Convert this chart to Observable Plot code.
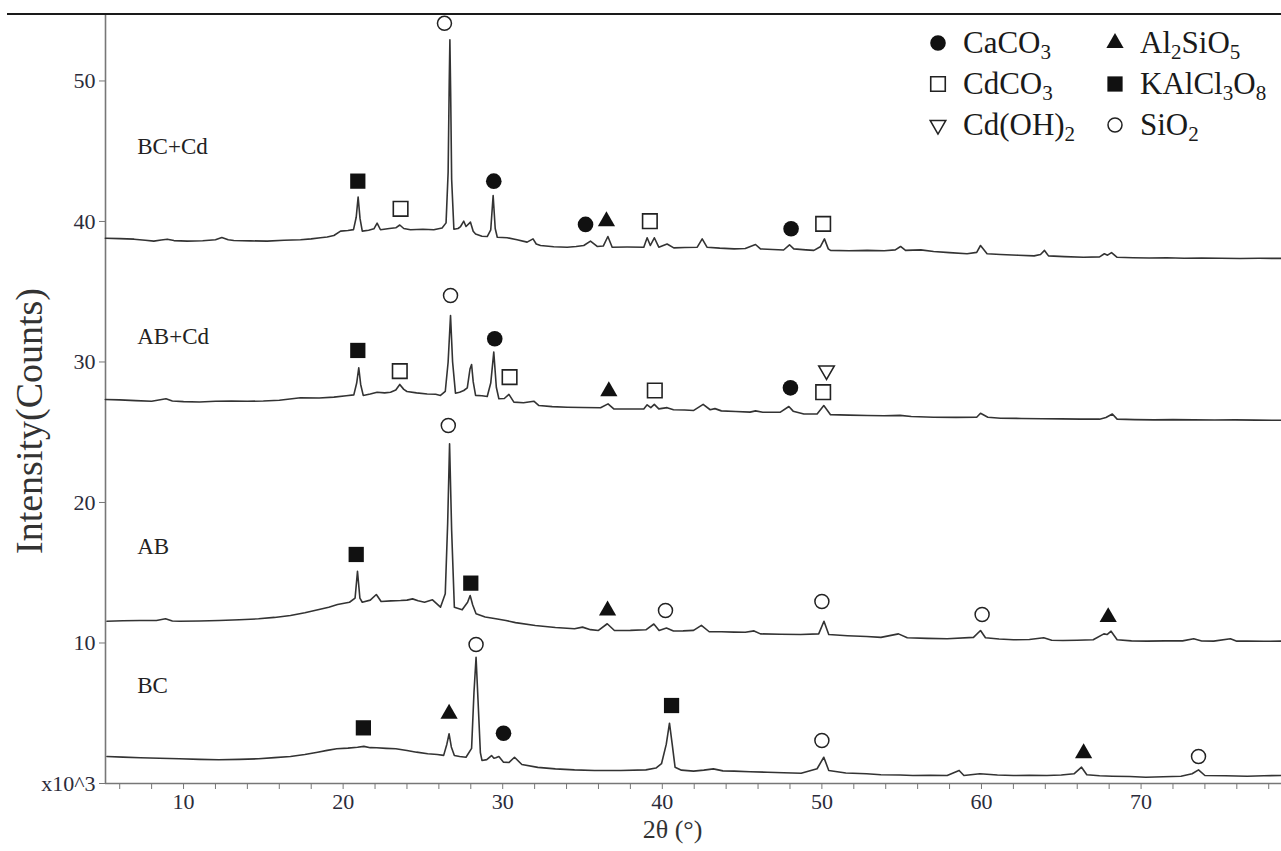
<!DOCTYPE html>
<html>
<head>
<meta charset="utf-8">
<script src="https://cdn.jsdelivr.net/npm/d3@7"></script>
<script src="https://cdn.jsdelivr.net/npm/@observablehq/plot@0.6"></script>
<style>
  html, body { margin: 0; padding: 0; background: #fff; }
  #wrap { position: relative; width: 1281px; height: 851px; overflow: hidden; font-family: "Liberation Serif", "Times New Roman", serif; }
  #topline { position: absolute; left: 7px; right: 0; top: 13px; height: 2px; background: #1a1a1a; }
  #legend { position: absolute; left: 925px; top: 22px; display: grid; grid-template-columns: 177px 150px; row-gap: 0px; font-size: 31px; color: #1a1a1a; }
  #legend .item { display: flex; align-items: center; height: 41px; white-space: nowrap; }
  #legend svg { width: 26px; height: 26px; margin-right: 12px; flex: none; }
  #legend sub { font-size: 0.68em; vertical-align: -0.28em; line-height: 0; }
</style>
</head>
<body>
<div id="wrap"><div id="topline"></div><div id="legend"></div></div>
<script>
// ---- Data: 2θ (°) vs intensity (counts, x10^3) ----
const BC = [[5.2,1.92],[6.2,1.88],[7.3,1.83],[8.5,1.8],[9.75,1.76],[11.0,1.72],[12.2,1.69],[13.5,1.72],[14.7,1.76],[15.7,1.84],[16.7,1.92],[17.6,2.06],[18.4,2.23],[19.0,2.36],[19.6,2.47],[20.3,2.52],[20.9,2.58],[21.3,2.64],[21.7,2.55],[22.1,2.54],[22.7,2.5],[23.3,2.47],[24.0,2.35],[24.6,2.23],[25.3,2.12],[25.9,2.06],[26.3,2.0],[26.5,2.8],[26.64,3.54],[26.78,2.6],[26.97,1.99],[27.3,1.92],[27.7,1.87],[28.05,2.5],[28.2,6.5],[28.33,8.99],[28.45,6.0],[28.6,2.2],[28.7,1.64],[29.0,1.7],[29.3,1.99],[29.45,1.8],[29.57,1.83],[29.76,1.92],[30.05,1.52],[30.4,1.5],[30.74,1.87],[31.2,1.35],[32.2,1.15],[33.3,1.04],[34.5,0.97],[35.75,0.93],[37.4,0.93],[38.97,0.97],[39.6,1.1],[39.95,1.41],[40.25,2.8],[40.45,4.29],[40.62,2.8],[40.8,1.16],[41.2,0.95],[41.96,0.88],[42.6,0.95],[43.2,1.04],[43.8,0.9],[44.5,0.88],[45.5,0.84],[46.6,0.8],[47.6,0.76],[48.7,0.73],[49.7,1.05],[50.12,1.87],[50.43,0.93],[51.5,0.75],[52.8,0.69],[53.7,0.62],[54.9,0.6],[55.7,0.57],[56.8,0.58],[57.85,0.57],[58.6,0.93],[58.9,0.57],[59.9,0.69],[61.0,0.6],[62.0,0.57],[63.0,0.58],[64.1,0.57],[65.0,0.6],[65.8,0.69],[66.27,1.16],[66.6,0.62],[67.4,0.55],[68.2,0.52],[69.3,0.5],[70.3,0.45],[71.4,0.48],[72.5,0.52],[73.2,0.69],[73.6,0.97],[74.0,0.57],[75.3,0.55],[76.65,0.52],[77.7,0.55],[78.8,0.57]];

const AB = [[5.2,11.55],[6.2,11.58],[7.27,11.6],[8.3,11.6],[8.87,11.72],[9.3,11.56],[9.75,11.55],[11.0,11.57],[12.23,11.6],[13.5,11.65],[14.7,11.72],[15.7,11.82],[16.7,11.96],[17.6,12.15],[18.42,12.36],[19.1,12.55],[19.65,12.74],[20.4,12.9],[20.75,13.2],[20.9,15.1],[21.05,13.2],[21.2,12.9],[21.7,13.05],[22.08,13.45],[22.38,12.95],[23.0,13.0],[23.6,13.02],[24.0,13.05],[24.35,13.14],[24.7,13.0],[25.1,12.9],[25.6,13.07],[26.1,12.55],[26.4,13.5],[26.55,18.5],[26.67,24.18],[26.8,18.0],[26.97,12.55],[27.46,12.36],[27.8,12.9],[27.96,13.38],[28.12,12.7],[28.33,12.08],[28.9,11.85],[29.57,11.72],[30.2,11.6],[30.8,11.45],[32.04,11.25],[33.3,11.1],[34.5,11.01],[35.0,11.13],[35.5,10.95],[36.0,10.89],[36.55,11.37],[37.0,10.89],[38.0,10.9],[38.97,10.94],[39.47,11.35],[39.8,10.89],[40.26,11.06],[40.7,10.85],[41.3,10.86],[41.96,10.9],[42.45,11.25],[42.94,10.8],[43.7,10.8],[44.5,10.77],[45.2,10.76],[45.75,10.86],[46.15,10.65],[47.4,10.62],[48.66,10.6],[49.8,10.65],[50.13,11.55],[50.43,10.6],[51.6,10.52],[52.8,10.46],[53.7,10.4],[54.8,10.65],[55.35,10.37],[56.6,10.33],[57.85,10.3],[59.5,10.4],[59.94,10.89],[60.25,10.37],[61.1,10.28],[62.0,10.23],[63.0,10.25],[63.9,10.37],[64.4,10.2],[65.1,10.18],[66.0,10.2],[67.0,10.23],[67.67,10.65],[67.87,10.6],[68.12,10.84],[68.5,10.23],[69.4,10.15],[70.38,10.13],[71.5,10.15],[72.6,10.15],[73.3,10.3],[73.8,10.14],[74.55,10.13],[75.6,10.3],[76.0,10.13],[76.65,10.13],[77.7,10.12],[78.8,10.13]];

const AB_Cd = [[5.1,27.33],[6.0,27.3],[7.0,27.25],[8.0,27.2],[8.9,27.38],[9.3,27.22],[10.0,27.18],[11.0,27.15],[12.0,27.2],[13.0,27.22],[14.0,27.2],[15.0,27.22],[16.0,27.28],[17.33,27.45],[18.5,27.44],[19.42,27.5],[20.2,27.6],[20.67,27.66],[20.85,28.5],[20.98,29.59],[21.1,28.4],[21.26,27.62],[21.7,27.72],[22.13,27.85],[22.6,27.8],[22.97,27.85],[23.3,28.0],[23.55,28.4],[23.8,28.05],[24.0,27.9],[24.6,27.8],[25.27,27.72],[25.8,27.7],[26.1,27.62],[26.4,27.9],[26.58,30.0],[26.73,33.31],[26.86,30.0],[27.04,27.78],[27.3,27.85],[27.56,27.97],[27.78,28.16],[27.95,29.5],[28.05,29.82],[28.15,28.6],[28.3,27.62],[28.7,27.6],[29.03,27.54],[29.25,28.5],[29.44,30.7],[29.6,28.2],[29.76,27.38],[30.1,27.4],[30.39,27.69],[30.7,27.14],[31.3,27.1],[31.95,27.21],[32.27,26.9],[33.1,26.82],[34.04,26.78],[35.0,26.76],[36.13,26.74],[36.6,27.02],[36.96,26.66],[37.9,26.65],[38.84,26.66],[39.05,26.95],[39.28,26.75],[39.5,26.98],[39.78,26.66],[40.3,26.75],[40.7,26.6],[41.4,26.58],[41.97,26.55],[42.56,26.98],[43.0,26.6],[43.3,26.68],[43.7,26.52],[44.6,26.48],[45.5,26.43],[45.84,26.52],[46.3,26.42],[47.4,26.43],[47.93,26.83],[48.2,26.5],[48.87,26.3],[49.7,26.3],[50.12,26.9],[50.54,26.25],[51.7,26.22],[52.84,26.19],[53.9,26.17],[54.9,26.2],[55.6,26.12],[57.0,26.07],[58.4,26.06],[59.7,26.07],[59.94,26.35],[60.4,26.07],[61.2,26.0],[62.5,25.98],[63.8,25.96],[65.0,25.95],[66.2,25.93],[67.4,25.93],[67.8,26.05],[68.2,26.3],[68.5,25.93],[69.6,25.9],[70.8,25.88],[72.0,25.9],[73.3,25.88],[74.6,25.87],[75.9,25.88],[77.2,25.86],[78.8,25.85]];

const BC_Cd = [[5.1,38.81],[6.0,38.78],[6.9,38.74],[7.6,38.66],[8.14,38.6],[8.6,38.68],[8.98,38.74],[9.4,38.64],[10.23,38.6],[11.2,38.63],[12.0,38.7],[12.4,38.86],[12.8,38.7],[13.15,38.65],[14.2,38.62],[15.24,38.6],[16.3,38.66],[17.33,38.7],[18.0,38.76],[18.58,38.84],[19.0,38.9],[19.42,39.0],[19.84,39.31],[20.3,39.36],[20.65,39.42],[20.82,40.3],[20.94,41.73],[21.06,40.2],[21.2,39.31],[21.6,39.38],[21.93,39.48],[22.13,39.88],[22.34,39.41],[22.9,39.5],[23.3,39.55],[23.55,39.75],[23.8,39.5],[24.22,39.41],[25.0,39.45],[25.68,39.41],[26.2,39.54],[26.45,39.9],[26.58,43.5],[26.65,50.0],[26.69,52.93],[26.74,49.0],[26.8,43.0],[26.94,39.45],[27.2,39.5],[27.36,39.64],[27.56,40.02],[27.7,39.64],[27.98,39.95],[28.15,39.3],[28.3,39.11],[28.7,38.95],[29.03,38.93],[29.25,39.4],[29.4,41.85],[29.53,39.5],[29.66,38.88],[30.28,38.84],[30.9,38.7],[31.53,38.53],[31.9,38.76],[32.1,38.4],[32.37,38.29],[33.2,38.2],[34.04,38.17],[34.6,38.22],[35.08,38.29],[35.5,38.6],[35.92,38.22],[36.3,38.25],[36.59,38.93],[36.86,38.17],[37.8,38.18],[38.84,38.17],[39.05,38.84],[39.25,38.29],[39.5,38.84],[39.78,38.17],[40.3,38.4],[40.72,38.12],[41.4,38.15],[42.19,38.17],[42.5,38.76],[42.8,38.17],[43.6,38.1],[44.5,38.05],[45.2,38.08],[45.84,38.36],[46.15,38.05],[47.6,37.97],[47.97,38.34],[48.24,38.05],[49.0,37.98],[49.5,37.94],[49.9,38.2],[50.16,38.76],[50.4,38.05],[50.54,37.94],[51.7,37.92],[52.84,37.94],[53.9,37.92],[54.6,37.98],[54.93,38.22],[55.24,37.94],[56.2,37.98],[57.0,37.86],[58.0,37.78],[59.1,37.7],[59.7,37.8],[59.94,38.29],[60.35,37.7],[61.2,37.65],[62.3,37.6],[63.3,37.55],[63.7,37.65],[63.95,37.94],[64.2,37.55],[65.2,37.5],[66.4,37.45],[67.4,37.48],[67.7,37.7],[67.9,37.6],[68.15,37.78],[68.5,37.45],[69.5,37.42],[70.5,37.4],[71.6,37.42],[72.7,37.38],[73.8,37.4],[75.0,37.38],[76.2,37.36],[77.4,37.38],[78.8,37.37]];

// Phase markers: [phase, 2θ, intensity]
const markersBC = [["KAlCl3O8",21.27,3.96],["Al2SiO5",26.64,4.96],["SiO2",28.33,9.89],["CaCO3",30.05,3.58],["KAlCl3O8",40.58,5.55],["SiO2",50.0,3.06],["Al2SiO5",66.4,2.16],["SiO2",73.6,1.92]];
const markersAB = [["KAlCl3O8",20.82,16.3],["SiO2",26.59,25.48],["KAlCl3O8",28.0,14.26],["Al2SiO5",36.57,12.31],["SiO2",40.2,12.31],["SiO2",50.0,12.95],["SiO2",60.04,12.03],["Al2SiO5",67.94,11.84]];
const markersABCd = [["KAlCl3O8",20.92,30.82],["CdCO3",23.55,29.35],["SiO2",26.73,34.73],["CaCO3",29.5,31.65],["CdCO3",30.43,28.92],["Al2SiO5",36.65,27.92],["CdCO3",39.53,27.97],["CaCO3",48.03,28.16],["CdCO3",50.08,27.85],["Cd(OH)2",50.29,29.4]];
const markersBCCd = [["KAlCl3O8",20.92,42.87],["CdCO3",23.6,40.9],["SiO2",26.35,54.1],["CaCO3",29.44,42.87],["CaCO3",35.19,39.79],["Al2SiO5",36.5,40.02],["CdCO3",39.22,40.02],["CaCO3",48.07,39.48],["CdCO3",50.08,39.83]];

// Sample labels: [label, 2θ, intensity]
const sampleLabels = [["BC",7.1,6.97],["AB",7.1,16.87],["AB+Cd",7.1,31.8],["BC+Cd",7.1,45.34]];

// Legend (in the reference's order, two columns)
const legendPhases = ["CaCO3","Al2SiO5","CdCO3","KAlCl3O8","Cd(OH)2","SiO2"];
const legendHtml = {"CaCO3":"CaCO<sub>3</sub>","Al2SiO5":"Al<sub>2</sub>SiO<sub>5</sub>","CdCO3":"CdCO<sub>3</sub>","KAlCl3O8":"KAlCl<sub>3</sub>O<sub>8</sub>","Cd(OH)2":"Cd(OH)<sub>2</sub>","SiO2":"SiO<sub>2</sub>"};

const yTicks = [0,10,20,30,40,50];
const xTicksLabeled = [10,20,30,40,50,60,70];

// ---- Styles per phase ----
const ink = "#111";
const phaseStyle = {
  "CaCO3":    {symbol:"circle",   fill:ink,    stroke:"none", r:7.8, rotate:0,   sw:0},
  "Al2SiO5":  {symbol:"triangle", fill:ink,    stroke:"none", r:6.4, rotate:0,   sw:0},
  "CdCO3":    {symbol:"square",   fill:"white", stroke:"#222", r:8.2, rotate:0,   sw:1.6},
  "KAlCl3O8": {symbol:"square",   fill:ink,    stroke:"none", r:8.6, rotate:0,   sw:0},
  "Cd(OH)2":  {symbol:"triangle", fill:"white", stroke:"#222", r:5.8, rotate:180, sw:1.5},
  "SiO2":     {symbol:"circle",   fill:"white", stroke:"#222", r:7.0, rotate:0,   sw:1.5}
};

const allMarkers = [...markersBC, ...markersAB, ...markersABCd, ...markersBCCd]
  .map(([phase, x, y]) => ({phase, x, y}));

const series = [
  {name:"BC", data:BC}, {name:"AB", data:AB}, {name:"AB+Cd", data:AB_Cd}, {name:"BC+Cd", data:BC_Cd}
];
const lineData = series.flatMap(s => s.data.map(([x, y]) => ({name:s.name, x, y})));

const xDomain = [5.11, 78.8];
const yDomain = [0, 54.73];
const axisColor = "#777";

const markerMarks = Object.entries(phaseStyle).map(([phase, st]) =>
  Plot.dot(allMarkers.filter(d => d.phase === phase), {
    x:"x", y:"y", symbol: st.symbol, r: st.r, fill: st.fill, stroke: st.stroke,
    strokeWidth: st.sw, rotate: st.rotate, fillOpacity: 1
  })
);

const chart = Plot.plot({
  width: 1281, height: 851,
  marginLeft: 105, marginRight: 0, marginTop: 14, marginBottom: 68,
  x: {domain: xDomain},
  y: {domain: yDomain},
  style: {fontFamily: "'Liberation Serif', 'Times New Roman', serif", background: "transparent", color: "#222"},
  marks: [
    Plot.axisX({ticks: d3.range(6, 79, 2), tickSize: 6, tickFormat: d => xTicksLabeled.includes(d) ? String(d) : "", fontSize: 22, tickPadding: 4, stroke: axisColor, fill: "#2b2b3a", label: null}),
    Plot.axisY({ticks: yTicks, tickSize: 6, tickFormat: d => d === 0 ? "x10^3" : String(d), fontSize: 22, tickPadding: 4, stroke: axisColor, fill: "#2b2b3a", label: null}),
    Plot.ruleY([yDomain[0]], {stroke: axisColor, strokeWidth: 1.6}),
    Plot.ruleX([xDomain[0]], {stroke: axisColor, strokeWidth: 1.6}),
    Plot.line(lineData, {x:"x", y:"y", z:"name", stroke:"#333", strokeWidth:1.6, curve:"linear"}),
    ...markerMarks,
    Plot.text(sampleLabels, {x: d => d[1], y: d => d[2], text: d => d[0], textAnchor: "start", fontSize: 23, fill: "#222"}),
    Plot.text(["Intensity(Counts)"], {frameAnchor: "left", dx: -76, dy: 22, rotate: -90, textAnchor: "middle", fontSize: 38, fill: "#333"}),
    Plot.text(["2θ (°)"], {frameAnchor: "bottom", dx: -21, dy: 54, textAnchor: "middle", fontSize: 26, fill: "#333"})
  ]
});
chart.style.position = "absolute";
chart.style.left = "0px";
chart.style.top = "0px";
document.getElementById("wrap").prepend(chart);

// ---- Legend ----
function glyph(phase) {
  const st = phaseStyle[phase];
  const size = Math.PI * st.r * st.r;
  const typ = st.symbol === "circle" ? d3.symbolCircle : st.symbol === "square" ? d3.symbolSquare : d3.symbolTriangle;
  const path = d3.symbol(typ, size)();
  return `<svg viewBox="-13 -13 26 26"><path d="${path}" transform="rotate(${st.rotate})" fill="${st.fill}" stroke="${st.stroke}" stroke-width="${st.sw}"/></svg>`;
}
const legend = document.getElementById("legend");
legend.innerHTML = legendPhases.map(p => `<div class="item">${glyph(p)}<span>${legendHtml[p]}</span></div>`).join("");
</script>
</body>
</html>
